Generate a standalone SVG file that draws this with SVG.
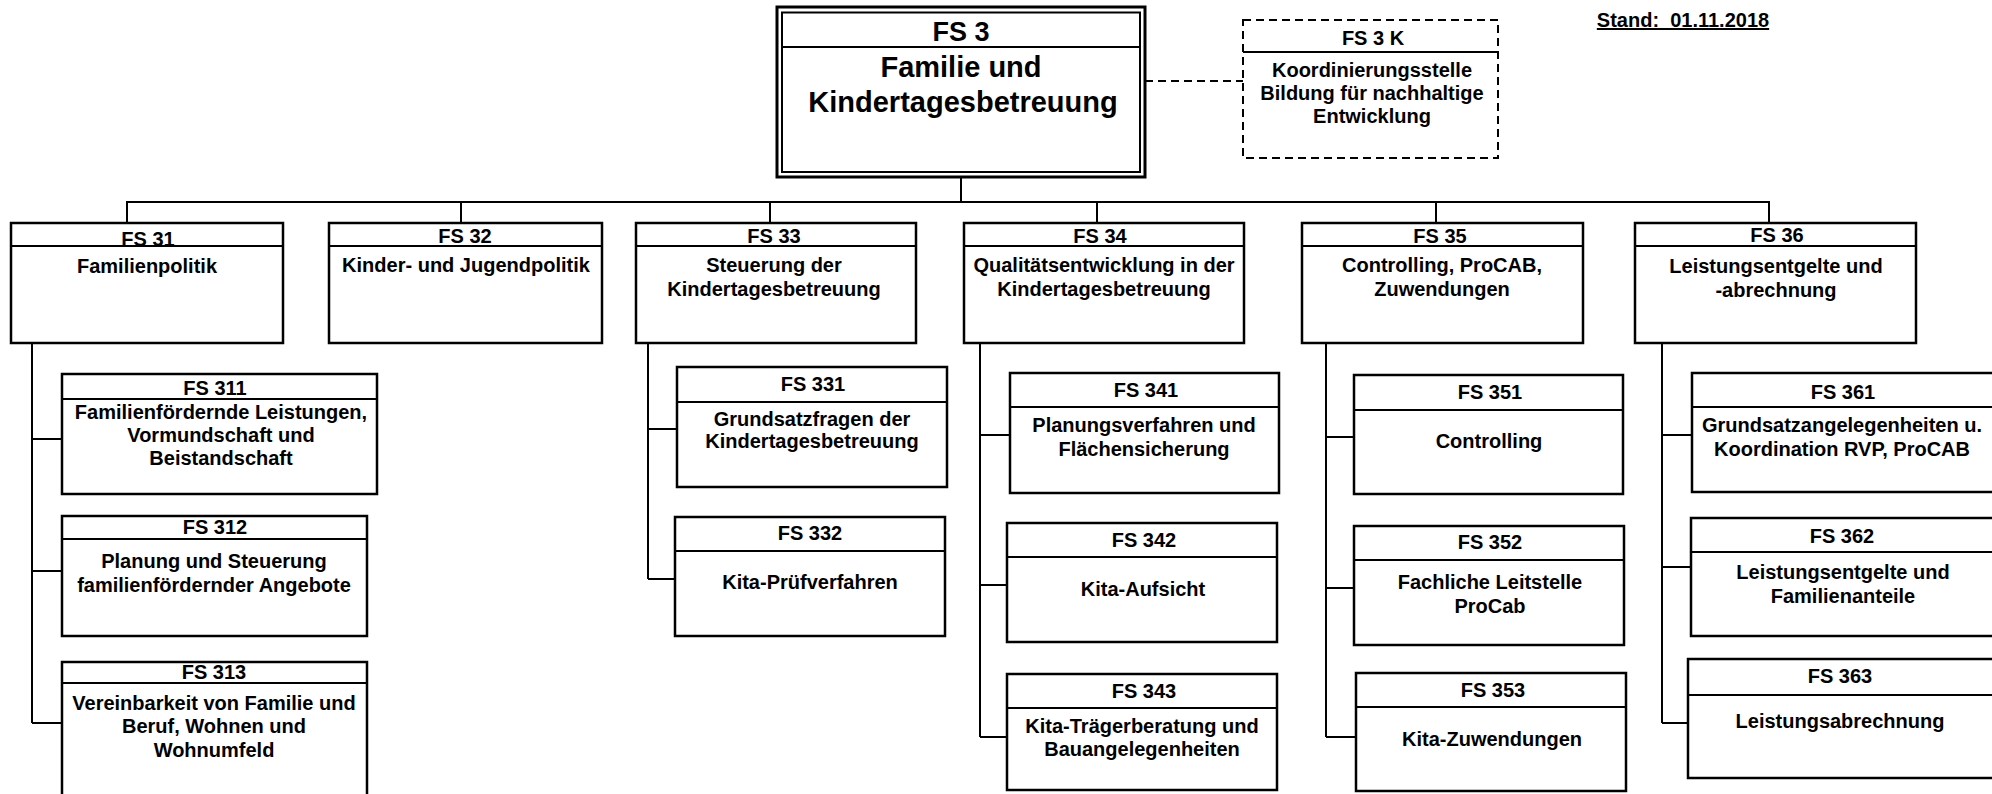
<svg xmlns="http://www.w3.org/2000/svg" width="1992" height="794" viewBox="0 0 1992 794">
<style>
.bg{fill:#fff}
.box{fill:#fff;stroke:#000;stroke-width:2.5}
.dv{stroke:#000;stroke-width:2}
.t{font-family:"Liberation Sans",Arial,Helvetica,sans-serif;font-weight:bold;font-size:20px;text-anchor:middle;fill:#000}
.big{font-size:29px}
.hd{font-size:27px}
.c{fill:none;stroke:#000;stroke-width:2}
.dash{stroke-dasharray:8 5}
</style>
<rect class="bg" x="0" y="0" width="1992" height="794"/>

<g id="connectors">
  <path class="c dash" d="M1145 81 H1243"/>
  <path class="c" d="M961 177 V202"/>
  <path class="c" d="M127 223 V202 H1769 V223"/>
  <path class="c" d="M461 202 V223 M770 202 V223 M1097 202 V223 M1436 202 V223"/>
  <path class="c" d="M32 343 V723 M32 439 H62 M32 571 H62 M32 723 H62"/>
  <path class="c" d="M648 343 V579 M648 429 H677 M648 579 H675"/>
  <path class="c" d="M980 343 V737 M980 435 H1010 M980 585 H1007 M980 737 H1007"/>
  <path class="c" d="M1326 343 V737 M1326 437 H1354 M1326 588 H1354 M1326 737 H1356"/>
  <path class="c" d="M1662 343 V723 M1662 435 H1692 M1662 567 H1691 M1662 723 H1688"/>
</g>

<g id="stand">
  <text class="t" x="1683" y="27" xml:space="preserve" text-decoration="underline">Stand:  01.11.2018</text>
</g>

<g id="fs3">
  <rect x="777" y="7" width="368" height="170" fill="#fff" stroke="#000" stroke-width="3"/>
  <rect x="782" y="12.5" width="358" height="159.5" fill="none" stroke="#000" stroke-width="2"/>
  <line class="dv" x1="782" y1="47" x2="1140" y2="47"/>
  <text class="t hd" x="961" y="41">FS 3</text>
  <text class="t big" x="961" y="77">Familie und</text>
  <text class="t big" x="963" y="112">Kindertagesbetreuung</text>
</g>

<g id="fs3k">
  <rect x="1243" y="20" width="255" height="138" fill="#fff" stroke="#000" stroke-width="2" stroke-dasharray="8 5"/>
  <line class="dv" x1="1243" y1="52" x2="1498" y2="52"/>
  <text class="t" x="1373" y="45">FS 3 K</text>
  <text class="t" x="1372" y="77">Koordinierungsstelle</text>
  <text class="t" x="1372" y="100">Bildung für nachhaltige</text>
  <text class="t" x="1372" y="123">Entwicklung</text>
</g>

<g id="fs31">
  <rect class="box" x="11" y="223" width="272" height="120"/>
  <line class="dv" x1="11" y1="246" x2="283" y2="246"/>
  <text class="t" x="148" y="246">FS 31</text>
  <text class="t" x="147" y="273">Familienpolitik</text>
</g>
<g id="fs32">
  <rect class="box" x="329" y="223" width="273" height="120"/>
  <line class="dv" x1="329" y1="246" x2="602" y2="246"/>
  <text class="t" x="465" y="243">FS 32</text>
  <text class="t" x="466" y="272">Kinder- und Jugendpolitik</text>
</g>
<g id="fs33">
  <rect class="box" x="636" y="223" width="280" height="120"/>
  <line class="dv" x1="636" y1="246" x2="916" y2="246"/>
  <text class="t" x="774" y="243">FS 33</text>
  <text class="t" x="774" y="272">Steuerung der</text>
  <text class="t" x="774" y="296">Kindertagesbetreuung</text>
</g>
<g id="fs34">
  <rect class="box" x="964" y="223" width="280" height="120"/>
  <line class="dv" x1="964" y1="246" x2="1244" y2="246"/>
  <text class="t" x="1100" y="243">FS 34</text>
  <text class="t" x="1104" y="272">Qualitätsentwicklung in der</text>
  <text class="t" x="1104" y="296">Kindertagesbetreuung</text>
</g>
<g id="fs35">
  <rect class="box" x="1302" y="223" width="281" height="120"/>
  <line class="dv" x1="1302" y1="246" x2="1583" y2="246"/>
  <text class="t" x="1440" y="243">FS 35</text>
  <text class="t" x="1442" y="272">Controlling, ProCAB,</text>
  <text class="t" x="1442" y="296">Zuwendungen</text>
</g>
<g id="fs36">
  <rect class="box" x="1635" y="223" width="281" height="120"/>
  <line class="dv" x1="1635" y1="246" x2="1916" y2="246"/>
  <text class="t" x="1777" y="242">FS 36</text>
  <text class="t" x="1776" y="273">Leistungsentgelte und</text>
  <text class="t" x="1776" y="297">-abrechnung</text>
</g>

<g id="fs311">
  <rect class="box" x="62" y="374" width="315" height="120"/>
  <line class="dv" x1="62" y1="399" x2="377" y2="399"/>
  <text class="t" x="215" y="395">FS 311</text>
  <text class="t" x="221" y="419">Familienfördernde Leistungen,</text>
  <text class="t" x="221" y="442">Vormundschaft und</text>
  <text class="t" x="221" y="465">Beistandschaft</text>
</g>
<g id="fs312">
  <rect class="box" x="62" y="516" width="305" height="120"/>
  <line class="dv" x1="62" y1="539" x2="367" y2="539"/>
  <text class="t" x="215" y="534">FS 312</text>
  <text class="t" x="214" y="568">Planung und Steuerung</text>
  <text class="t" x="214" y="592">familienfördernder Angebote</text>
</g>
<g id="fs313">
  <rect class="box" x="62" y="662" width="305" height="140"/>
  <line class="dv" x1="62" y1="683" x2="367" y2="683"/>
  <text class="t" x="214" y="679">FS 313</text>
  <text class="t" x="214" y="710">Vereinbarkeit von Familie und</text>
  <text class="t" x="214" y="733">Beruf, Wohnen und</text>
  <text class="t" x="214" y="757">Wohnumfeld</text>
</g>

<g id="fs331">
  <rect class="box" x="677" y="367" width="270" height="120"/>
  <line class="dv" x1="677" y1="402" x2="947" y2="402"/>
  <text class="t" x="813" y="391">FS 331</text>
  <text class="t" x="812" y="426">Grundsatzfragen der</text>
  <text class="t" x="812" y="448">Kindertagesbetreuung</text>
</g>
<g id="fs332">
  <rect class="box" x="675" y="517" width="270" height="119"/>
  <line class="dv" x1="675" y1="551" x2="945" y2="551"/>
  <text class="t" x="810" y="540">FS 332</text>
  <text class="t" x="810" y="589">Kita-Prüfverfahren</text>
</g>

<g id="fs341">
  <rect class="box" x="1010" y="373" width="269" height="120"/>
  <line class="dv" x1="1010" y1="407" x2="1279" y2="407"/>
  <text class="t" x="1146" y="397">FS 341</text>
  <text class="t" x="1144" y="432">Planungsverfahren und</text>
  <text class="t" x="1144" y="456">Flächensicherung</text>
</g>
<g id="fs342">
  <rect class="box" x="1007" y="523" width="270" height="119"/>
  <line class="dv" x1="1007" y1="557" x2="1277" y2="557"/>
  <text class="t" x="1144" y="547">FS 342</text>
  <text class="t" x="1143" y="596">Kita-Aufsicht</text>
</g>
<g id="fs343">
  <rect class="box" x="1007" y="674" width="270" height="116"/>
  <line class="dv" x1="1007" y1="708" x2="1277" y2="708"/>
  <text class="t" x="1144" y="698">FS 343</text>
  <text class="t" x="1142" y="733">Kita-Trägerberatung und</text>
  <text class="t" x="1142" y="756">Bauangelegenheiten</text>
</g>

<g id="fs351">
  <rect class="box" x="1354" y="375" width="269" height="119"/>
  <line class="dv" x1="1354" y1="410" x2="1623" y2="410"/>
  <text class="t" x="1490" y="399">FS 351</text>
  <text class="t" x="1489" y="448">Controlling</text>
</g>
<g id="fs352">
  <rect class="box" x="1354" y="526" width="270" height="119"/>
  <line class="dv" x1="1354" y1="560" x2="1624" y2="560"/>
  <text class="t" x="1490" y="549">FS 352</text>
  <text class="t" x="1490" y="589">Fachliche Leitstelle</text>
  <text class="t" x="1490" y="613">ProCab</text>
</g>
<g id="fs353">
  <rect class="box" x="1356" y="673" width="270" height="118"/>
  <line class="dv" x1="1356" y1="707" x2="1626" y2="707"/>
  <text class="t" x="1493" y="697">FS 353</text>
  <text class="t" x="1492" y="746">Kita-Zuwendungen</text>
</g>

<g id="fs361">
  <rect class="box" x="1692" y="373" width="302" height="119"/>
  <line class="dv" x1="1692" y1="407" x2="1994" y2="407"/>
  <text class="t" x="1843" y="399">FS 361</text>
  <text class="t" x="1842" y="432">Grundsatzangelegenheiten u.</text>
  <text class="t" x="1842" y="456">Koordination RVP, ProCAB</text>
</g>
<g id="fs362">
  <rect class="box" x="1691" y="518" width="303" height="118"/>
  <line class="dv" x1="1691" y1="552" x2="1994" y2="552"/>
  <text class="t" x="1842" y="543">FS 362</text>
  <text class="t" x="1843" y="579">Leistungsentgelte und</text>
  <text class="t" x="1843" y="603">Familienanteile</text>
</g>
<g id="fs363">
  <rect class="box" x="1688" y="659" width="306" height="119"/>
  <line class="dv" x1="1688" y1="695" x2="1994" y2="695"/>
  <text class="t" x="1840" y="683">FS 363</text>
  <text class="t" x="1840" y="728">Leistungsabrechnung</text>
</g>
</svg>
